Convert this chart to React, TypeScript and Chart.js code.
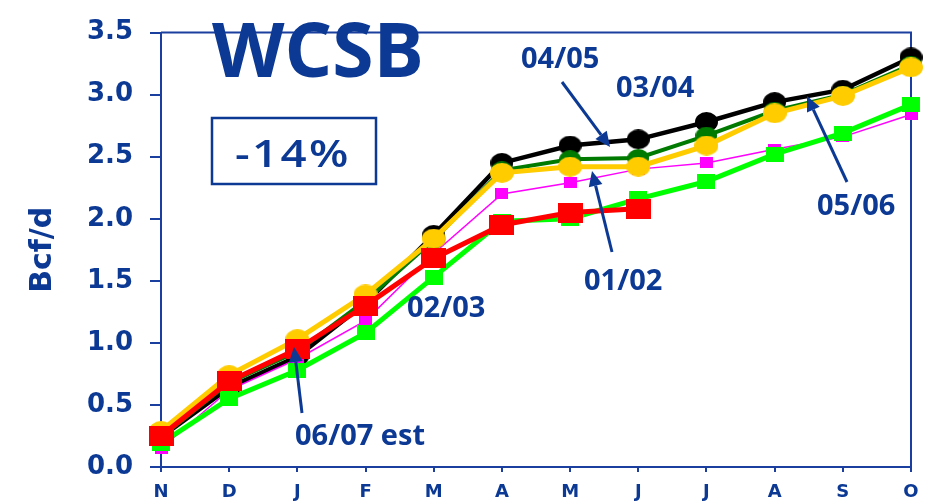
import React, { useEffect, useRef } from "react";
import { Chart, registerables } from "chart.js";

Chart.register(...registerables);

// ---- data ----
const months = ["N", "D", "J", "F", "M", "A", "M", "J", "J", "A", "S", "O"];
const s0102 = [0.15, 0.62, 0.87, 1.18, 1.72, 2.2, 2.29, 2.4, 2.45, 2.56, 2.66, 2.84];
const s0203 = [0.19, 0.55, 0.78, 1.08, 1.53, 1.98, 2.0, 2.16, 2.3, 2.52, 2.69, 2.92];
const s0304 = [0.24, 0.64, 0.89, 1.32, 1.87, 2.45, 2.59, 2.64, 2.78, 2.94, 3.04, 3.3];
const s0405 = [0.24, 0.68, 0.93, 1.34, 1.83, 2.39, 2.48, 2.49, 2.67, 2.87, 3.0, 3.24];
const s0506 = [0.29, 0.74, 1.03, 1.39, 1.84, 2.37, 2.42, 2.42, 2.59, 2.85, 2.99, 3.22];
const s0607 = [0.25, 0.69, 0.95, 1.3, 1.68, 1.95, 2.05, 2.08, null, null, null, null];
const yMin = 0;
const yMax = 3.5;
const yStep = 0.5;

const BLUE = "#0c3994";
const AXIS = "#1b3f9e";
const AXFONT = "'DejaVu Sans', Verdana, sans-serif";

function ellipseImg(w: number, h: number, color: string) {
  const c = document.createElement("canvas");
  c.width = w;
  c.height = h;
  const g = c.getContext("2d")!;
  g.fillStyle = color;
  g.beginPath();
  g.ellipse(w / 2, h / 2, w / 2, h / 2, 0, 0, Math.PI * 2);
  g.fill();
  return c;
}
function rectImg(w: number, h: number, color: string) {
  const c = document.createElement("canvas");
  c.width = w;
  c.height = h;
  const g = c.getContext("2d")!;
  g.fillStyle = color;
  g.fillRect(0, 0, w, h);
  return c;
}

function arrow(ctx: CanvasRenderingContext2D, x1: number, y1: number, x2: number, y2: number) {
  const ang = Math.atan2(y2 - y1, x2 - x1);
  const hl = 15;
  const hw = 7;
  const bx = x2 - hl * Math.cos(ang);
  const by = y2 - hl * Math.sin(ang);
  ctx.save();
  ctx.strokeStyle = BLUE;
  ctx.fillStyle = BLUE;
  ctx.lineWidth = 3;
  ctx.beginPath();
  ctx.moveTo(x1, y1);
  ctx.lineTo(bx, by);
  ctx.stroke();
  ctx.beginPath();
  ctx.moveTo(x2, y2);
  ctx.lineTo(bx + hw * Math.sin(ang), by - hw * Math.cos(ang));
  ctx.lineTo(bx - hw * Math.sin(ang), by + hw * Math.cos(ang));
  ctx.closePath();
  ctx.fill();
  ctx.restore();
}

const framePlugin = {
  id: "frame",
  beforeDatasetsDraw(chart: any) {
    const { ctx, chartArea: a } = chart;
    ctx.save();
    ctx.strokeStyle = AXIS;
    ctx.lineWidth = 2;
    ctx.beginPath();
    ctx.moveTo(a.left, a.top);
    ctx.lineTo(a.right, a.top);
    ctx.lineTo(a.right, a.bottom);
    ctx.stroke();
    ctx.restore();
  },
};

const annotPlugin = {
  id: "annot",
  afterDatasetsDraw(chart: any) {
    const ctx: CanvasRenderingContext2D = chart.ctx;
    ctx.save();
    ctx.fillStyle = BLUE;
    ctx.textAlign = "left";
    ctx.textBaseline = "alphabetic";
    // title
    ctx.font = "bold 75px 'Open Sans'";
    ctx.fillText("WCSB", 212, 77);
    // percent box
    ctx.strokeStyle = BLUE;
    ctx.lineWidth = 2.5;
    ctx.strokeRect(212, 118, 164, 66);
    ctx.save();
    ctx.translate(235, 167);
    ctx.scale(1.2, 1);
    ctx.font = "600 38px 'Open Sans'";
    (ctx as any).letterSpacing = "2px";
    ctx.fillText("-14%", 0, 0);
    ctx.restore();
    // series labels
    ctx.font = "bold 29px 'Open Sans'";
    ctx.fillText("04/05", 521, 68);
    ctx.fillText("03/04", 616, 97);
    ctx.fillText("02/03", 407, 317);
    ctx.fillText("01/02", 584, 290);
    ctx.fillText("05/06", 817, 215);
    ctx.fillText("06/07 est", 295, 445);
    ctx.restore();
    arrow(ctx, 562, 82, 610, 147);
    arrow(ctx, 612, 252, 592, 171);
    arrow(ctx, 847, 182, 807, 96);
    arrow(ctx, 302, 413, 294, 347);
  },
};

export default function App() {
  const ref = useRef<HTMLCanvasElement>(null);
  useEffect(() => {
    const ptBlack = ellipseImg(23, 20, "#000000");
    const ptDkGreen = ellipseImg(22, 18, "#007a00");
    const ptGold = ellipseImg(24, 20, "#ffcc00");
    const ptMag = rectImg(13, 11, "#ff00ff");
    const ptLime = rectImg(18, 15, "#00ff00");
    const ptRed = rectImg(25, 20, "#ff0000");
    const mk = (label: string, data: any[], color: string, width: number, img: any, order: number) => ({
      label,
      data,
      borderColor: color,
      backgroundColor: color,
      borderWidth: width,
      pointStyle: img,
      pointRadius: 10,
      pointBorderWidth: 0,
      tension: 0,
      clip: false as any,
      spanGaps: false,
      order,
    });
    const chart = new Chart(ref.current!, {
      type: "line",
      data: {
        labels: months,
        datasets: [
          mk("06/07 est", s0607, "#ff0000", 5, ptRed, 1),
          mk("05/06", s0506, "#ffcc00", 5, ptGold, 2),
          mk("02/03", s0203, "#00ff00", 5, ptLime, 3),
          mk("01/02", s0102, "#ff00ff", 1.5, ptMag, 4),
          mk("04/05", s0405, "#007a00", 4, ptDkGreen, 5),
          mk("03/04", s0304, "#000000", 4.5, ptBlack, 6),
        ],
      },
      options: {
        responsive: false,
        animation: false,
        devicePixelRatio: 1,
        layout: { padding: { top: 11, right: 18, left: 0, bottom: 0 }, autoPadding: false } as any,
        plugins: { legend: { display: false }, tooltip: { enabled: false } },
        scales: {
          x: {
            type: "category",
            offset: false,
            grid: {
              display: true,
              offset: false,
              drawOnChartArea: false,
              drawTicks: true,
              tickLength: 5,
              color: AXIS,
              lineWidth: 2,
            },
            border: { display: true, color: AXIS, width: 2 },
            ticks: {
              color: BLUE,
              font: { family: AXFONT, size: 18, weight: "bold" },
              padding: 10,
              maxRotation: 0,
              autoSkip: false,
            },
            afterFit: (s: any) => {
              s.height = 37;
            },
          },
          y: {
            min: yMin,
            max: yMax,
            grid: {
              display: true,
              drawOnChartArea: false,
              drawTicks: true,
              tickLength: 11,
              color: AXIS,
              lineWidth: 2,
            },
            border: { display: true, color: AXIS, width: 2 },
            ticks: {
              stepSize: yStep,
              color: BLUE,
              font: { family: AXFONT, size: 26, weight: "bold" },
              padding: 17,
              callback: (v: any) => Number(v).toFixed(1),
            },
            title: {
              display: true,
              text: "Bcf/d",
              color: BLUE,
              font: { family: AXFONT, size: 30, weight: "bold" },
              padding: { top: 25, bottom: 0 },
            },
            afterFit: (s: any) => {
              s.width = 161;
            },
          },
        },
      },
      plugins: [framePlugin, annotPlugin],
    });
    return () => chart.destroy();
  }, []);
  return (
    <div style={{ position: "fixed", left: 0, top: 0, width: 929, height: 504, background: "#fff" }}>
      <canvas ref={ref} width={929} height={504} style={{ display: "block" }} />
    </div>
  );
}
